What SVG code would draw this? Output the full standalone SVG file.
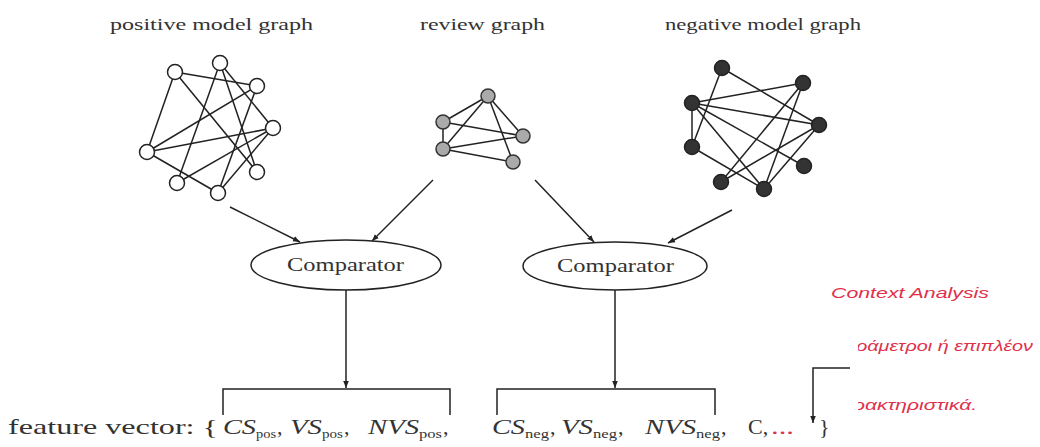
<svg xmlns="http://www.w3.org/2000/svg" width="1040" height="447" viewBox="0 0 1040 447">
<style>
.lbl{font-family:"Liberation Serif","DejaVu Serif",serif;font-size:16px;fill:#333}
.cmp{font-family:"Liberation Serif","DejaVu Serif",serif;font-size:18px;fill:#333}
.e{stroke:#222;stroke-width:1.5;fill:none}
.pn{fill:#fff;stroke:#222;stroke-width:1.5}
.rn{fill:#aaa;stroke:#333;stroke-width:1.5}
.nn{fill:#333;stroke:#222;stroke-width:1.5}
.c{stroke:#222;stroke-width:1.5;fill:none}
.fv{font-family:"Liberation Serif","DejaVu Serif",serif;font-size:22px;fill:#333}
.it{font-style:italic}
.sub{font-family:"Liberation Serif","DejaVu Serif",serif;font-size:13px;fill:#333}
.red{font-family:"Liberation Sans","DejaVu Sans",sans-serif;font-style:italic;font-size:15px;fill:#e0304a}
</style>
<defs>
<marker id="ah" viewBox="0 0 10 10" refX="10" refY="5" markerWidth="7" markerHeight="7" markerUnits="userSpaceOnUse" orient="auto">
<path d="M0,1 L10,5 L0,9 z" fill="#222"/>
</marker>
<clipPath id="clipR"><rect x="858" y="280" width="182" height="140"/></clipPath>
</defs>

<g id="positive-graph">
<text class="lbl" x="110" y="30" textLength="203" lengthAdjust="spacingAndGlyphs">positive model graph</text>
<g class="e">
<line x1="175" y1="72" x2="257" y2="86"/>
<line x1="175" y1="72" x2="147" y2="152"/>
<line x1="175" y1="72" x2="257" y2="172"/>
<line x1="220" y1="63" x2="177" y2="183"/>
<line x1="220" y1="63" x2="273" y2="128"/>
<line x1="220" y1="63" x2="257" y2="172"/>
<line x1="257" y1="86" x2="147" y2="152"/>
<line x1="257" y1="86" x2="218" y2="193"/>
<line x1="273" y1="128" x2="147" y2="152"/>
<line x1="273" y1="128" x2="177" y2="183"/>
<line x1="273" y1="128" x2="218" y2="193"/>
<line x1="147" y1="152" x2="218" y2="193"/>
</g>
<circle class="pn" cx="175" cy="72" r="7.5"/>
<circle class="pn" cx="220" cy="63" r="7.5"/>
<circle class="pn" cx="257" cy="86" r="7.5"/>
<circle class="pn" cx="273" cy="128" r="7.5"/>
<circle class="pn" cx="147" cy="152" r="7.5"/>
<circle class="pn" cx="257" cy="172" r="7.5"/>
<circle class="pn" cx="177" cy="183" r="7.5"/>
<circle class="pn" cx="218" cy="193" r="7.5"/>
</g>

<g id="review-graph">
<text class="lbl" x="420" y="30" textLength="125" lengthAdjust="spacingAndGlyphs">review graph</text>
<g class="e">
<line x1="488" y1="96" x2="443" y2="122"/>
<line x1="488" y1="96" x2="443" y2="149"/>
<line x1="488" y1="96" x2="523" y2="136"/>
<line x1="488" y1="96" x2="513" y2="162"/>
<line x1="443" y1="122" x2="443" y2="149"/>
<line x1="443" y1="122" x2="523" y2="136"/>
<line x1="443" y1="149" x2="523" y2="136"/>
<line x1="443" y1="149" x2="513" y2="162"/>
</g>
<circle class="rn" cx="488" cy="96" r="7"/>
<circle class="rn" cx="443" cy="122" r="7"/>
<circle class="rn" cx="523" cy="136" r="7"/>
<circle class="rn" cx="443" cy="149" r="7"/>
<circle class="rn" cx="513" cy="162" r="7"/>
</g>

<g id="negative-graph">
<text class="lbl" x="665" y="30" textLength="196" lengthAdjust="spacingAndGlyphs">negative model graph</text>
<g class="e">
<line x1="722" y1="68" x2="819" y2="125"/>
<line x1="722" y1="68" x2="692" y2="147"/>
<line x1="692" y1="103" x2="803" y2="83"/>
<line x1="692" y1="103" x2="819" y2="125"/>
<line x1="692" y1="103" x2="692" y2="147"/>
<line x1="692" y1="103" x2="804" y2="166"/>
<line x1="692" y1="103" x2="764" y2="189"/>
<line x1="803" y1="83" x2="721" y2="182"/>
<line x1="803" y1="83" x2="764" y2="189"/>
<line x1="819" y1="125" x2="721" y2="182"/>
<line x1="819" y1="125" x2="764" y2="189"/>
<line x1="692" y1="147" x2="764" y2="189"/>
</g>
<circle class="nn" cx="722" cy="68" r="7.5"/>
<circle class="nn" cx="803" cy="83" r="7.5"/>
<circle class="nn" cx="692" cy="103" r="7.5"/>
<circle class="nn" cx="819" cy="125" r="7.5"/>
<circle class="nn" cx="692" cy="147" r="7.5"/>
<circle class="nn" cx="804" cy="166" r="7.5"/>
<circle class="nn" cx="721" cy="182" r="7.5"/>
<circle class="nn" cx="764" cy="189" r="7.5"/>
</g>

<g id="comparator-1">
<ellipse cx="346" cy="265" rx="95" ry="25" fill="#fff" stroke="#222" stroke-width="1.5"/>
<text class="cmp" x="287" y="271" textLength="117" lengthAdjust="spacingAndGlyphs">Comparator</text>
</g>
<g id="comparator-2">
<ellipse cx="615" cy="266" rx="92" ry="24" fill="#fff" stroke="#222" stroke-width="1.5"/>
<text class="cmp" x="557" y="272" textLength="117" lengthAdjust="spacingAndGlyphs">Comparator</text>
</g>

<g id="connectors">
<line class="c" x1="230" y1="207" x2="300" y2="242" marker-end="url(#ah)"/>
<line class="c" x1="433" y1="180" x2="372" y2="241" marker-end="url(#ah)"/>
<line class="c" x1="535" y1="180" x2="594" y2="242" marker-end="url(#ah)"/>
<line class="c" x1="732" y1="210" x2="668" y2="243" marker-end="url(#ah)"/>
<line class="c" x1="346" y1="290" x2="346" y2="388" marker-end="url(#ah)"/>
<line class="c" x1="615" y1="290" x2="615" y2="388" marker-end="url(#ah)"/>
<polyline class="c" points="223,415 223,389 450,389 450,415"/>
<polyline class="c" points="497,415 497,389 715,389 715,415"/>
<polyline class="c" points="850,368 813,368 813,423" marker-end="url(#ah)"/>
</g>

<g id="feature-vector">
<text class="fv" x="8" y="434" textLength="210" lengthAdjust="spacingAndGlyphs">feature vector: {</text>
<text class="fv it" x="223" y="434" textLength="33" lengthAdjust="spacingAndGlyphs">CS</text>
<text class="sub" x="256" y="438" textLength="20" lengthAdjust="spacingAndGlyphs">pos</text>
<text class="fv" x="277" y="434">,</text>
<text class="fv it" x="290" y="434" textLength="32" lengthAdjust="spacingAndGlyphs">VS</text>
<text class="sub" x="322" y="438" textLength="21" lengthAdjust="spacingAndGlyphs">pos</text>
<text class="fv" x="344" y="434">,</text>
<text class="fv it" x="368" y="434" textLength="51" lengthAdjust="spacingAndGlyphs">NVS</text>
<text class="sub" x="419" y="438" textLength="23" lengthAdjust="spacingAndGlyphs">pos</text>
<text class="fv" x="443" y="434">,</text>
<text class="fv it" x="492" y="434" textLength="33" lengthAdjust="spacingAndGlyphs">CS</text>
<text class="sub" x="525" y="438" textLength="24" lengthAdjust="spacingAndGlyphs">neg</text>
<text class="fv" x="550" y="434">,</text>
<text class="fv it" x="561" y="434" textLength="32" lengthAdjust="spacingAndGlyphs">VS</text>
<text class="sub" x="593" y="438" textLength="24" lengthAdjust="spacingAndGlyphs">neg</text>
<text class="fv" x="618" y="434">,</text>
<text class="fv it" x="645" y="434" textLength="51" lengthAdjust="spacingAndGlyphs">NVS</text>
<text class="sub" x="696" y="438" textLength="24" lengthAdjust="spacingAndGlyphs">neg</text>
<text class="fv" x="721" y="434">,</text>
<text class="fv" x="748" y="434">C,</text>
<text class="fv" x="771" y="434" textLength="23" lengthAdjust="spacingAndGlyphs" style="fill:#e0304a">...</text>
<text class="fv" x="819" y="434">}</text>
</g>

<g id="context-analysis">
<text class="red" x="831" y="298" textLength="158" lengthAdjust="spacingAndGlyphs">Context Analysis</text>
<g clip-path="url(#clipR)">
<text class="red" x="856" y="351" textLength="177" lengthAdjust="spacingAndGlyphs">ράμετροι ή επιπλέον</text>
<text class="red" x="853" y="410" textLength="124" lengthAdjust="spacingAndGlyphs">ρακτηριστικά.</text>
</g>
</g>
</svg>
